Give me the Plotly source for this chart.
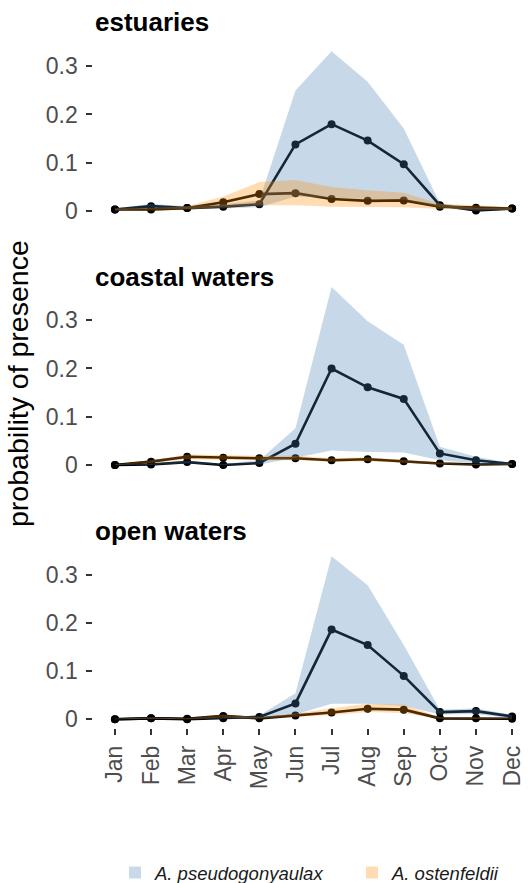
import plotly.graph_objects as go

# --- data -----------------------------------------------------------------
months = ["Jan", "Feb", "Mar", "Apr", "May", "Jun",
          "Jul", "Aug", "Sep", "Oct", "Nov", "Dec"]
habitats = ["estuaries", "coastal waters", "open waters"]
species = ["A. pseudogonyaulax", "A. ostenfeldii"]
y_ticks = [0, 0.1, 0.2, 0.3]
y_tick_labels = ["0", "0.1", "0.2", "0.3"]

# A. pseudogonyaulax: estimate, lower and upper bound per month
pseudo_est = [0.003, 0.010, 0.006, 0.009, 0.014, 0.138, 0.180, 0.146, 0.097, 0.012, 0.001, 0.005]
pseudo_est_lo = [0.001, 0.005, 0.004, 0.005, 0.008, 0.030, 0.027, 0.025, 0.024, 0.008, 0.000, 0.003]
pseudo_est_hi = [0.005, 0.015, 0.010, 0.014, 0.022, 0.250, 0.331, 0.268, 0.171, 0.016, 0.006, 0.007]

pseudo_coa = [0.000, 0.001, 0.006, 0.000, 0.004, 0.044, 0.200, 0.161, 0.137, 0.024, 0.010, 0.002]
pseudo_coa_lo = [0.000, 0.000, 0.003, 0.000, 0.001, 0.015, 0.030, 0.027, 0.026, 0.010, 0.003, 0.000]
pseudo_coa_hi = [0.001, 0.003, 0.009, 0.002, 0.010, 0.076, 0.369, 0.298, 0.249, 0.038, 0.017, 0.004]

pseudo_opn = [0.000, 0.002, 0.000, 0.002, 0.005, 0.033, 0.186, 0.154, 0.090, 0.015, 0.017, 0.006]
pseudo_opn_lo = [0.000, 0.001, 0.000, 0.001, 0.002, 0.010, 0.032, 0.032, 0.028, 0.010, 0.011, 0.002]
pseudo_opn_hi = [0.001, 0.004, 0.001, 0.004, 0.008, 0.054, 0.338, 0.278, 0.154, 0.020, 0.023, 0.009]

# A. ostenfeldii: estimate, lower and upper bound per month
ost_est = [0.003, 0.003, 0.006, 0.018, 0.035, 0.037, 0.025, 0.021, 0.022, 0.009, 0.007, 0.005]
ost_est_lo = [0.001, 0.001, 0.003, 0.008, 0.012, 0.012, 0.009, 0.008, 0.008, 0.004, 0.003, 0.002]
ost_est_hi = [0.005, 0.006, 0.010, 0.030, 0.060, 0.064, 0.050, 0.043, 0.038, 0.015, 0.012, 0.008]

ost_coa = [0.000, 0.007, 0.017, 0.015, 0.014, 0.014, 0.010, 0.012, 0.008, 0.003, 0.001, 0.002]
ost_coa_lo = [0.000, 0.004, 0.012, 0.011, 0.010, 0.010, 0.007, 0.008, 0.005, 0.001, 0.000, 0.001]
ost_coa_hi = [0.001, 0.010, 0.022, 0.020, 0.019, 0.019, 0.014, 0.016, 0.011, 0.005, 0.002, 0.003]

ost_opn = [0.000, 0.002, 0.001, 0.007, 0.002, 0.008, 0.014, 0.022, 0.020, 0.002, 0.002, 0.001]
ost_opn_lo = [0.000, 0.001, 0.000, 0.004, 0.001, 0.005, 0.009, 0.015, 0.013, 0.001, 0.001, 0.000]
ost_opn_hi = [0.001, 0.003, 0.002, 0.010, 0.004, 0.012, 0.023, 0.032, 0.030, 0.004, 0.004, 0.002]

panels = [
    ((pseudo_est, pseudo_est_lo, pseudo_est_hi), (ost_est, ost_est_lo, ost_est_hi)),
    ((pseudo_coa, pseudo_coa_lo, pseudo_coa_hi), (ost_coa, ost_coa_lo, ost_coa_hi)),
    ((pseudo_opn, pseudo_opn_lo, pseudo_opn_hi), (ost_opn, ost_opn_lo, ost_opn_hi)),
]

# --- styling --------------------------------------------------------------
W, H = 528, 883
FONT = "Liberation Sans, Arial, Helvetica, sans-serif"
ribbon_fill = ["rgba(70,130,180,0.3)", "rgba(255,140,0,0.3)"]
legend_fill = ["rgb(200,218,233)", "rgb(255,220,178)"]
TICK_GREY = "#4d4d4d"

y_range = [-0.017, 0.37]
px_per_unit = 482.5
zero_px = [211.0, 465.0, 719.3]        # vertical pixel of y = 0 in each panel
title_px = [22.0, 277.0, 531.0]
x_left_px = 93.3
x_range = [-0.6, -0.6 + (W - x_left_px) / 36.1]
legend_x_px = [115, 352]
legend_y_px = 873

fig = go.Figure()

for i, (pseudo, ost) in enumerate(panels):
    ax = "" if i == 0 else str(i + 1)
    xref, yref = "x" + ax, "y" + ax
    # lines and points first, ribbons laid over them
    for est, _, _ in (pseudo, ost):
        fig.add_trace(go.Scatter(
            x=months, y=est, mode="lines+markers",
            line=dict(color="black", width=2.6),
            marker=dict(color="black", size=8),
            xaxis=xref, yaxis=yref, showlegend=False, hoverinfo="skip"))
    for k, (_, lo, hi) in enumerate((pseudo, ost)):
        fig.add_trace(go.Scatter(
            x=months + months[::-1], y=hi + lo[::-1],
            fill="toself", fillcolor=ribbon_fill[k], mode="lines",
            line=dict(width=0), xaxis=xref, yaxis=yref,
            showlegend=False, hoverinfo="skip"))

    bottom_px = zero_px[i] - y_range[0] * px_per_unit
    top_px = bottom_px - (y_range[1] - y_range[0]) * px_per_unit
    is_bottom = i == 2
    fig.layout["xaxis" + ax] = dict(
        domain=[x_left_px / W, 1.0], range=x_range, anchor=yref,
        type="category", categoryorder="array", categoryarray=months,
        showgrid=False, zeroline=False, showline=False, automargin=False,
        ticks="outside" if is_bottom else "", ticklen=6, tickwidth=2, tickcolor="#333333",
        showticklabels=is_bottom, tickangle=-90, ticklabelstandoff=2,
        tickfont=dict(family=FONT, size=23, color=TICK_GREY))
    fig.layout["yaxis" + ax] = dict(
        domain=[1 - bottom_px / H, 1 - top_px / H], range=y_range, anchor=xref,
        showgrid=False, zeroline=False, showline=False, automargin=False,
        tickvals=y_ticks, ticktext=y_tick_labels,
        ticks="outside", ticklen=6, tickwidth=2, tickcolor="#333333",
        ticklabelstandoff=4,
        tickfont=dict(family=FONT, size=23, color=TICK_GREY))
    fig.add_annotation(
        text="<b>" + habitats[i] + "</b>", xref="paper", yref="paper",
        x=93 / W, y=1 - title_px[i] / H, xanchor="left", yanchor="middle",
        showarrow=False, font=dict(family=FONT, size=26, color="black"))

# legend keys, one legend box per species
for k, name in enumerate(species):
    fig.add_trace(go.Scatter(
        x=[None], y=[None], mode="markers", name="<i>" + name + "</i>",
        marker=dict(symbol="square", size=15, color=legend_fill[k]),
        showlegend=True, hoverinfo="skip",
        legend="legend" if k == 0 else "legend2"))

fig.add_annotation(
    text="probability of presence", xref="paper", yref="paper",
    x=18 / W, y=1 - 384 / H, textangle=-90, showarrow=False,
    xanchor="center", yanchor="middle",
    font=dict(family=FONT, size=28.5, color="black"))

legend_style = dict(orientation="h", xanchor="left",
                    y=1 - legend_y_px / H, yanchor="middle",
                    font=dict(family=FONT, size=18.5, color="#1a1a1a"),
                    itemsizing="constant", bgcolor="rgba(0,0,0,0)")

fig.update_layout(
    width=W, height=H,
    margin=dict(l=0, r=0, t=0, b=0, autoexpand=False),
    paper_bgcolor="white", plot_bgcolor="white",
    legend=dict(x=legend_x_px[0] / W, **legend_style),
    legend2=dict(x=legend_x_px[1] / W, **legend_style),
)

fig.write_html("out.html")
